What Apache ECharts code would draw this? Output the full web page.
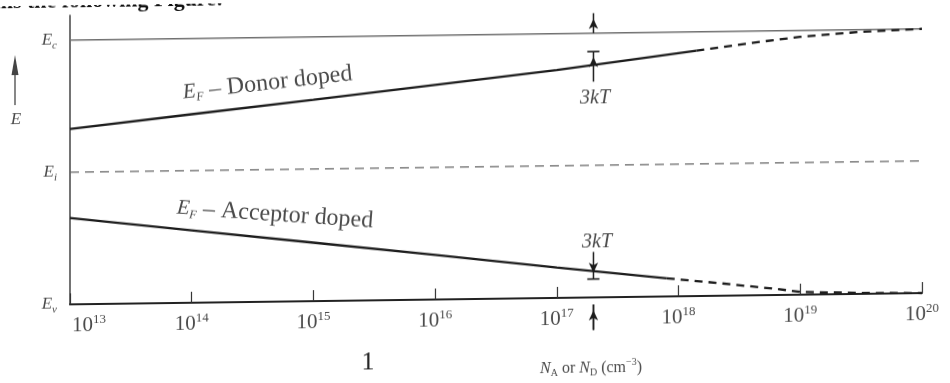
<!DOCTYPE html>
<html>
<head>
<meta charset="utf-8">
<script src="https://cdn.jsdelivr.net/npm/echarts@6/dist/echarts.min.js"></script>
<style>
  html, body { margin: 0; padding: 0; background: #ffffff; overflow: hidden; }
  #chart { width: 950px; height: 383px; transform: skewY(-0.76deg); transform-origin: 475px 191.5px; }
</style>
</head>
<body>
<div id="chart"></div>
<script>
// Band edges of silicon relative to Ev (eV)
const EC = 1.12;
const EI = 0.56;
const EV = 0;
const bandN = [1e13, 1e20];

// Fermi level, donor-doped material
const donorSolidN = [1e13, 1e14, 1e15, 1e16, 1e17, 1.4e18];
const donorSolidE = [0.743, 0.799, 0.854, 0.910, 0.966, 1.040];
const donorDashN = [1.4e18, 4e18, 1e19, 3e19, 1e20];
const donorDashE = [1.040, 1.070, 1.093, 1.110, 1.120];

// Fermi level, acceptor-doped material
const acceptorSolidN = [1e13, 1e14, 1e15, 1e16, 1e17, 8e17];
const acceptorSolidE = [0.366, 0.307, 0.248, 0.189, 0.129, 0.077];
const acceptorDashN = [8e17, 2.2e18, 6.5e18, 1e19, 3e19, 1e20];
const acceptorDashE = [0.077, 0.053, 0.025, 0.012, 0.004, 0.0];

// 3kT markers
const markN = 2e17;
const capN = [1.78e17, 2.24e17];
const kT3 = 0.078;
const donorMarkTop = [EC, 1.18, 1.205];      // stem above Ec, arrow at middle point
const donorMarkStem = [0.914, 1.018, EC - kT3];
const acceptorMarkStem = [0.193, 0.105, EV + kT3];
const acceptorMarkBottom = [-0.138, -0.055, -0.03];

// Axis tick labels
const decadeExps = [13, 14, 15, 16, 17, 18, 19, 20];
const yTickLabels = { '0': 'v', '0.56': 'i', '1.12': 'c' };

const SERIF = '"Liberation Serif", "DejaVu Serif", serif';
const INK = '#1c1c1c';
const TEXT = '#4a4a4a';

function pairs(xs, ys) { return xs.map((x, i) => [x, ys[i]]); }

function lineSeries(data, opts) {
  return Object.assign({
    type: 'line', data: data, showSymbol: false, symbol: 'none', silent: true,
    animation: false, clip: false,
    lineStyle: { color: INK, width: 2.3 }
  }, opts);
}

// Vertical marker with an arrowhead at its middle point
function markerSeries(ys, rotate) {
  return {
    type: 'line', silent: true, animation: false, clip: false,
    showSymbol: true,
    data: [
      { value: [markN, ys[0]], symbol: 'none' },
      { value: [markN, ys[1]], symbol: 'arrow', symbolSize: [7, 10], symbolRotate: rotate },
      { value: [markN, ys[2]], symbol: 'none' }
    ],
    itemStyle: { color: INK },
    lineStyle: { color: INK, width: 1.5 }
  };
}

function capSeries(y) {
  return lineSeries([[capN[0], y], [capN[1], y]], { lineStyle: { color: INK, width: 1.6 } });
}

// Decade label 10^n; the first one starts at the axis instead of centring on it
function decadeLabel(v) {
  const n = Math.round(Math.log10(v));
  const lead = n === decadeExps[0] ? '{p|}' : '';
  return lead + '{b|10}{s|' + n + '}';
}

const chart = echarts.init(document.getElementById('chart'), null, { renderer: 'canvas' });

chart.setOption({
  backgroundColor: '#ffffff',
  animation: false,
  grid: { left: 70, right: 28, top: 10, bottom: 84, containLabel: false },
  xAxis: {
    type: 'log', logBase: 10, min: 1e13, max: 1e20, splitNumber: 7,
    axisLine: { show: true, lineStyle: { color: '#222', width: 2 } },
    axisTick: { show: true, inside: true, length: 11, lineStyle: { color: '#333', width: 1.2 } },
    splitLine: { show: false },
    axisLabel: {
      margin: 9,
      formatter: decadeLabel,
      rich: {
        p: { width: 38, lineHeight: 24 },
        b: { fontFamily: SERIF, fontSize: 21, color: TEXT, lineHeight: 24 },
        s: { fontFamily: SERIF, fontSize: 13, color: TEXT, lineHeight: 13, verticalAlign: 'top' }
      }
    }
  },
  yAxis: {
    type: 'value', min: 0, max: 1.225, interval: 0.56,
    axisLine: { show: true, lineStyle: { color: '#444', width: 1.5 } },
    axisTick: { show: false },
    splitLine: { show: false },
    axisLabel: {
      margin: 13, showMaxLabel: false,
      formatter: v => {
        const k = String(Math.round(v * 100) / 100);
        return yTickLabels[k] ? '{e|E}{s|' + yTickLabels[k] + '}' : '';
      },
      rich: {
        e: { fontFamily: SERIF, fontStyle: 'italic', fontSize: 17, color: TEXT, lineHeight: 22 },
        s: { fontFamily: SERIF, fontStyle: 'italic', fontSize: 11, color: TEXT, lineHeight: 11, verticalAlign: 'bottom' }
      }
    }
  },
  series: [
    lineSeries(pairs(bandN, [EC, EC]), { lineStyle: { color: '#707070', width: 1.5 } }),
    lineSeries(pairs(bandN, [EI, EI]), { lineStyle: { color: '#666', width: 1.4, type: [9, 6] } }),
    lineSeries(pairs(donorSolidN, donorSolidE)),
    lineSeries(pairs(donorDashN, donorDashE), { lineStyle: { color: INK, width: 2.3, type: [8, 6] } }),
    lineSeries(pairs(acceptorSolidN, acceptorSolidE)),
    lineSeries(pairs(acceptorDashN, acceptorDashE), { lineStyle: { color: INK, width: 2.3, type: [8, 6] } }),
    markerSeries(donorMarkTop, 0),
    markerSeries(donorMarkStem, 0),
    capSeries(EC - kT3),
    markerSeries(acceptorMarkStem, 180),
    capSeries(EV + kT3),
    markerSeries(acceptorMarkBottom, 0),
    lineSeries([[markN, -0.138], [markN, -0.03]], { lineStyle: { color: INK, width: 1.5 } })
  ],
  graphic: [
    // fragment of the page text above the figure
    { type: 'text', x: -36, y: -4, silent: true,
      style: { text: 'ntains the following Figure:', font: 'bold 22px ' + SERIF, fill: '#111', verticalAlign: 'middle' } },
    // energy arrow on the left
    { type: 'line', silent: true, shape: { x1: 15, y1: 99, x2: 15, y2: 62 }, style: { stroke: '#555', lineWidth: 1.4 } },
    { type: 'polygon', silent: true, shape: { points: [[15, 49], [11.5, 69], [18.5, 69]] }, style: { fill: '#444' } },
    { type: 'text', x: 16, y: 114, silent: true,
      style: { text: 'E', font: 'italic 17px ' + SERIF, fill: TEXT, align: 'center', verticalAlign: 'middle' } },
    // curve labels
    { type: 'text', x: 183, y: 89, rotation: 0.1, silent: true,
      style: {
        text: '{e|E}{f|F}{t| – Donor doped}', align: 'left', verticalAlign: 'middle',
        rich: {
          e: { fontFamily: SERIF, fontStyle: 'italic', fontSize: 21, fill: TEXT, lineHeight: 24 },
          f: { fontFamily: SERIF, fontStyle: 'italic', fontSize: 12, fill: TEXT, lineHeight: 12, verticalAlign: 'bottom' },
          t: { fontFamily: SERIF, fontSize: 24, fill: TEXT, lineHeight: 24 }
        }
      } },
    { type: 'text', x: 177, y: 204, rotation: -0.08, silent: true,
      style: {
        text: '{e|E}{f|F}{t| – Acceptor doped}', align: 'left', verticalAlign: 'middle',
        rich: {
          e: { fontFamily: SERIF, fontStyle: 'italic', fontSize: 21, fill: TEXT, lineHeight: 24 },
          f: { fontFamily: SERIF, fontStyle: 'italic', fontSize: 12, fill: TEXT, lineHeight: 12, verticalAlign: 'bottom' },
          t: { fontFamily: SERIF, fontSize: 24, fill: TEXT, lineHeight: 24 }
        }
      } },
    { type: 'text', x: 595, y: 99.6, silent: true,
      style: { text: '3kT', font: 'italic 20px ' + SERIF, fill: TEXT, align: 'center', verticalAlign: 'middle' } },
    { type: 'text', x: 597, y: 243.6, silent: true,
      style: { text: '3kT', font: 'italic 20px ' + SERIF, fill: TEXT, align: 'center', verticalAlign: 'middle' } },
    // axis title
    { type: 'text', x: 591, y: 369.5, silent: true,
      style: {
        text: '{n|N}{d|A}{t| or }{n|N}{d|D}{t| (cm}{u|−3}{t|)}', align: 'center', verticalAlign: 'middle',
        rich: {
          n: { fontFamily: SERIF, fontStyle: 'italic', fontSize: 16, fill: TEXT, lineHeight: 20 },
          d: { fontFamily: SERIF, fontSize: 10, fill: TEXT, lineHeight: 10, verticalAlign: 'bottom' },
          t: { fontFamily: SERIF, fontSize: 16, fill: TEXT, lineHeight: 20 },
          u: { fontFamily: SERIF, fontSize: 10, fill: TEXT, lineHeight: 10, verticalAlign: 'top' }
        }
      } },
    { type: 'text', x: 368, y: 361.6, silent: true,
      style: { text: '1', font: '26px ' + SERIF, fill: '#222', align: 'center', verticalAlign: 'middle' } }
  ]
});
</script>
</body>
</html>
